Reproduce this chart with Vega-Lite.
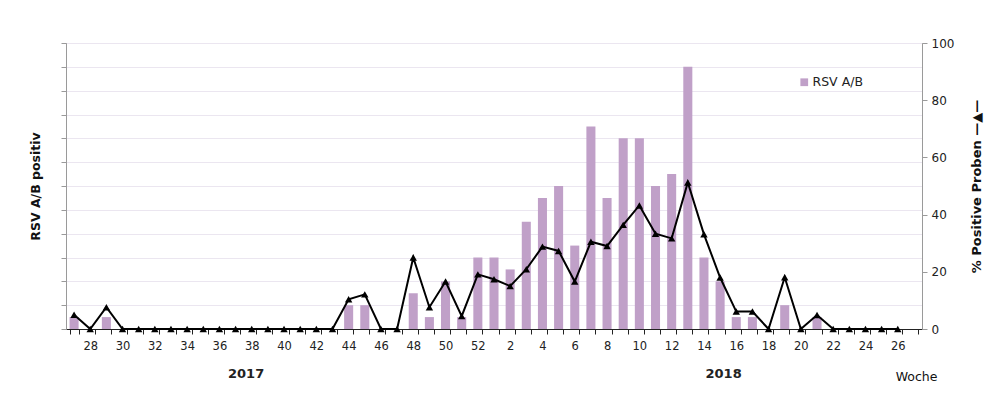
{
  "$schema": "https://vega.github.io/schema/vega-lite/v6.json",
  "width": 856,
  "height": 286,
  "autosize": {"type": "none"},
  "padding": {"left": 66, "top": 43, "right": 80, "bottom": 67},
  "background": "white",
  "config": {
    "font": "DejaVu Sans",
    "view": {"stroke": "#9a9a9a", "strokeWidth": 1},
    "axis": {"labelFont": "DejaVu Sans", "titleFont": "DejaVu Sans", "labelColor": "#222", "titleColor": "#111"}
  },
  "data": {
    "values": [
      {"w": 27, "n": 1, "p": 5.0},
      {"w": 28, "n": 0, "p": 0},
      {"w": 29, "n": 1, "p": 7.6},
      {"w": 30, "n": 0, "p": 0},
      {"w": 31, "n": 0, "p": 0},
      {"w": 32, "n": 0, "p": 0},
      {"w": 33, "n": 0, "p": 0},
      {"w": 34, "n": 0, "p": 0},
      {"w": 35, "n": 0, "p": 0},
      {"w": 36, "n": 0, "p": 0},
      {"w": 37, "n": 0, "p": 0},
      {"w": 38, "n": 0, "p": 0},
      {"w": 39, "n": 0, "p": 0},
      {"w": 40, "n": 0, "p": 0},
      {"w": 41, "n": 0, "p": 0},
      {"w": 42, "n": 0, "p": 0},
      {"w": 43, "n": 0, "p": 0},
      {"w": 44, "n": 2, "p": 10.4},
      {"w": 45, "n": 2, "p": 12.1},
      {"w": 46, "n": 0, "p": 0},
      {"w": 47, "n": 0, "p": 0},
      {"w": 48, "n": 3, "p": 25.0},
      {"w": 49, "n": 1, "p": 7.6},
      {"w": 50, "n": 4, "p": 16.6},
      {"w": 51, "n": 1, "p": 4.5},
      {"w": 52, "n": 6, "p": 19.1},
      {"w": 1, "n": 6, "p": 17.4},
      {"w": 2, "n": 5, "p": 15.0},
      {"w": 3, "n": 9, "p": 20.9},
      {"w": 4, "n": 11, "p": 28.8},
      {"w": 5, "n": 12, "p": 27.3},
      {"w": 6, "n": 7, "p": 16.6},
      {"w": 7, "n": 17, "p": 30.5},
      {"w": 8, "n": 11, "p": 29.0},
      {"w": 9, "n": 16, "p": 36.4},
      {"w": 10, "n": 16, "p": 43.2},
      {"w": 11, "n": 12, "p": 33.3},
      {"w": 12, "n": 13, "p": 31.7},
      {"w": 13, "n": 22, "p": 51.2},
      {"w": 14, "n": 6, "p": 33.1},
      {"w": 15, "n": 4, "p": 18.0},
      {"w": 16, "n": 1, "p": 6.1},
      {"w": 17, "n": 1, "p": 6.1},
      {"w": 18, "n": 0, "p": 0},
      {"w": 19, "n": 2, "p": 18.1},
      {"w": 20, "n": 0, "p": 0},
      {"w": 21, "n": 1, "p": 4.9},
      {"w": 22, "n": 0, "p": 0},
      {"w": 23, "n": 0, "p": 0},
      {"w": 24, "n": 0, "p": 0},
      {"w": 25, "n": 0, "p": 0},
      {"w": 26, "n": 0, "p": 0}
    ]
  },
  "encoding": {
    "x": {
      "field": "w",
      "type": "ordinal",
      "scale": {
        "domain": [27,28,29,30,31,32,33,34,35,36,37,38,39,40,41,42,43,44,45,46,47,48,49,50,51,52,1,2,3,4,5,6,7,8,9,10,11,12,13,14,15,16,17,18,19,20,21,22,23,24,25,26,53],
        "paddingInner": 0.44,
        "paddingOuter": 0.22
      },
      "axis": {
        "title": "Woche",
        "titleFontWeight": "normal",
        "titleFontSize": 12.5,
        "titleX": 850,
        "titleY": 47,
        "titleAlign": "center",
        "titleBaseline": "middle",
        "titleAnchor": null,
        "labelAngle": 0,
        "labelOverlap": false,
        "labelBaseline": "top",
        "labelExpr": "datum.value == 37 ? '2017' : datum.value == 15 ? '2018' : (datum.value % 2 == 0 ? datum.label : '')",
        "labelFontWeight": {"condition": {"test": "datum.value == 37 || datum.value == 15", "value": "bold"}, "value": "normal"},
        "labelFontSize": {"condition": {"test": "datum.value == 37 || datum.value == 15", "value": 13}, "value": 11.5},
        "labelPadding": {"condition": {"test": "datum.value == 37 || datum.value == 15", "value": 33}, "value": 6},
        "labelOffset": {"condition": [{"test": "datum.value == 37", "value": 10}, {"test": "datum.value == 15", "value": 3}], "value": 0},
        "tickBand": "extent",
        "tickSize": 5,
        "tickColor": "#222",
        "domainColor": "#222",
        "grid": false
      }
    }
  },
  "layer": [
    {
      "mark": {"type": "bar", "color": "#c0a0c8"},
      "encoding": {
        "y": {
          "field": "n",
          "type": "quantitative",
          "scale": {"domain": [0, 24], "nice": false},
          "axis": {
            "title": "RSV A/B positiv",
            "titleFontSize": 12.5,
            "titleFontWeight": "bold",
            "titlePadding": 18,
            "values": [0,2,4,6,8,10,12,14,16,18,20,22,24],
            "labels": false,
            "grid": true,
            "gridColor": "#ebe6f0",
            "gridWidth": 1,
            "domainColor": "#9a9a9a",
            "tickColor": "#9a9a9a",
            "tickSize": 5
          }
        },
        "color": {
          "datum": "RSV A/B",
          "type": "nominal",
          "scale": {"range": ["#c0a0c8"]},
          "legend": {
            "title": null,
            "orient": "none",
            "legendX": 732,
            "legendY": 33,
            "symbolType": "square",
            "symbolSize": 60,
            "symbolStrokeWidth": 0,
            "labelFontSize": 12.5,
            "labelFont": "DejaVu Sans",
            "labelColor": "#222",
            "labelOffset": 2
          }
        }
      }
    },
    {
      "mark": {"type": "line", "color": "black", "strokeWidth": 2, "point": {"shape": "triangle-up", "size": 55, "color": "black", "filled": true}},
      "encoding": {
        "y": {
          "field": "p",
          "type": "quantitative",
          "scale": {"domain": [0, 100], "nice": false},
          "axis": {
            "orient": "right",
            "title": "% Positive Proben  —▲—",
            "titleAngle": 270,
            "titleFontSize": 13,
            "titleFontWeight": "bold",
            "titlePadding": 30,
            "values": [0,20,40,60,80,100],
            "labelFontSize": 12,
            "labelPadding": 4,
            "grid": false,
            "domainColor": "#9a9a9a",
            "tickColor": "#9a9a9a",
            "tickSize": 5
          }
        },
        "order": {"value": null}
      }
    }
  ],
  "resolve": {"scale": {"y": "independent"}}
}
